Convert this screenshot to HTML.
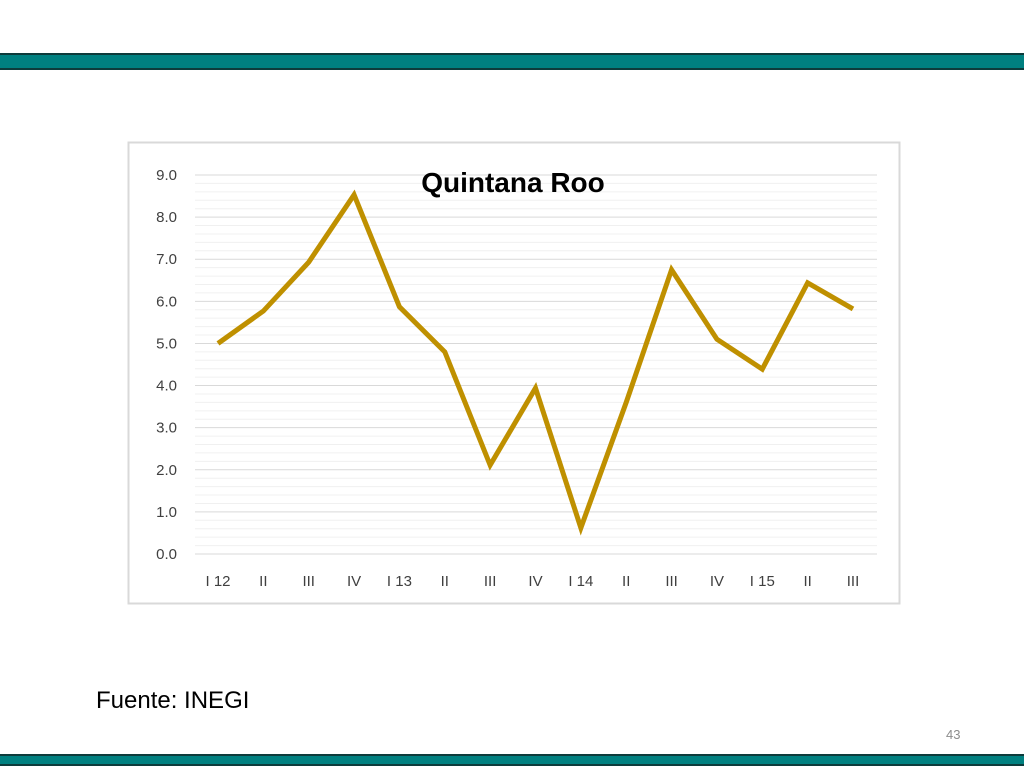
<!DOCTYPE html>
<html><head><meta charset="utf-8"><style>
body{margin:0;width:1024px;height:768px;background:#fff;position:relative;overflow:hidden;font-family:"Liberation Sans",sans-serif}
.bar{position:absolute;left:0;width:1024px;background:#008080;border-top:2px solid #0d3b3b;border-bottom:2px solid #0d3b3b}
</style></head><body>
<div class="bar" style="top:53px;height:13px"></div>
<div class="bar" style="top:754px;height:8px"></div>
<svg width="1024" height="768" style="position:absolute;left:0;top:0">
<rect x="128.5" y="142.5" width="771" height="461" fill="#fff" stroke="#d9d9d9" stroke-width="2"/>
<g id="grid"></g><g id="labels"></g>
<text x="513" y="192" text-anchor="middle" font-size="28" font-weight="bold" fill="#000">Quintana Roo</text>
<polyline id="line" fill="none" stroke="#bf9000" stroke-width="5" stroke-linejoin="miter"/>
<text x="96" y="708" font-size="24" fill="#000">Fuente: INEGI</text>
<text x="946" y="739" font-size="13" fill="#8c8c8c">43</text>
</svg>
<script>
const categories=["I 12","II","III","IV","I 13","II","III","IV","I 14","II","III","IV","I 15","II","III"];
const values=[5.0,5.77,6.93,8.53,5.87,4.8,2.11,3.94,0.62,3.6,6.75,5.1,4.39,6.44,5.82];
const yTicks=["0.0","1.0","2.0","3.0","4.0","5.0","6.0","7.0","8.0","9.0"];
const ns="http://www.w3.org/2000/svg";
const X=i=>218+i*(853-218)/(categories.length-1);
const Y=v=>554-v*(554-175)/9;
const grid=document.getElementById('grid'),lab=document.getElementById('labels');
for(let k=0;k<=45;k++){const v=k*0.2;const l=document.createElementNS(ns,'line');


l.setAttribute('x1',195);l.setAttribute('x2',877);l.setAttribute('y1',Y(v));l.setAttribute('y2',Y(v));
l.setAttribute('stroke',k%5==0?'#d9d9d9':'#f0f0f0');l.setAttribute('stroke-width',1);grid.appendChild(l);}
yTicks.forEach(t=>{const e=document.createElementNS(ns,'text');


e.setAttribute('x',177);e.setAttribute('y',Y(parseFloat(t))+5);e.setAttribute('text-anchor','end');e.setAttribute('font-size',15);e.setAttribute('fill','#404040');e.textContent=t;lab.appendChild(e);});
categories.forEach((c,i)=>{const e=document.createElementNS(ns,'text');


e.setAttribute('x',X(i));e.setAttribute('y',586);e.setAttribute('text-anchor','middle');e.setAttribute('font-size',15);e.setAttribute('fill','#404040');e.textContent=c;lab.appendChild(e);});
document.getElementById('line').setAttribute('points',values.map((v,i)=>X(i)+','+Y(v)).join(' '));
</script>
</body></html>
